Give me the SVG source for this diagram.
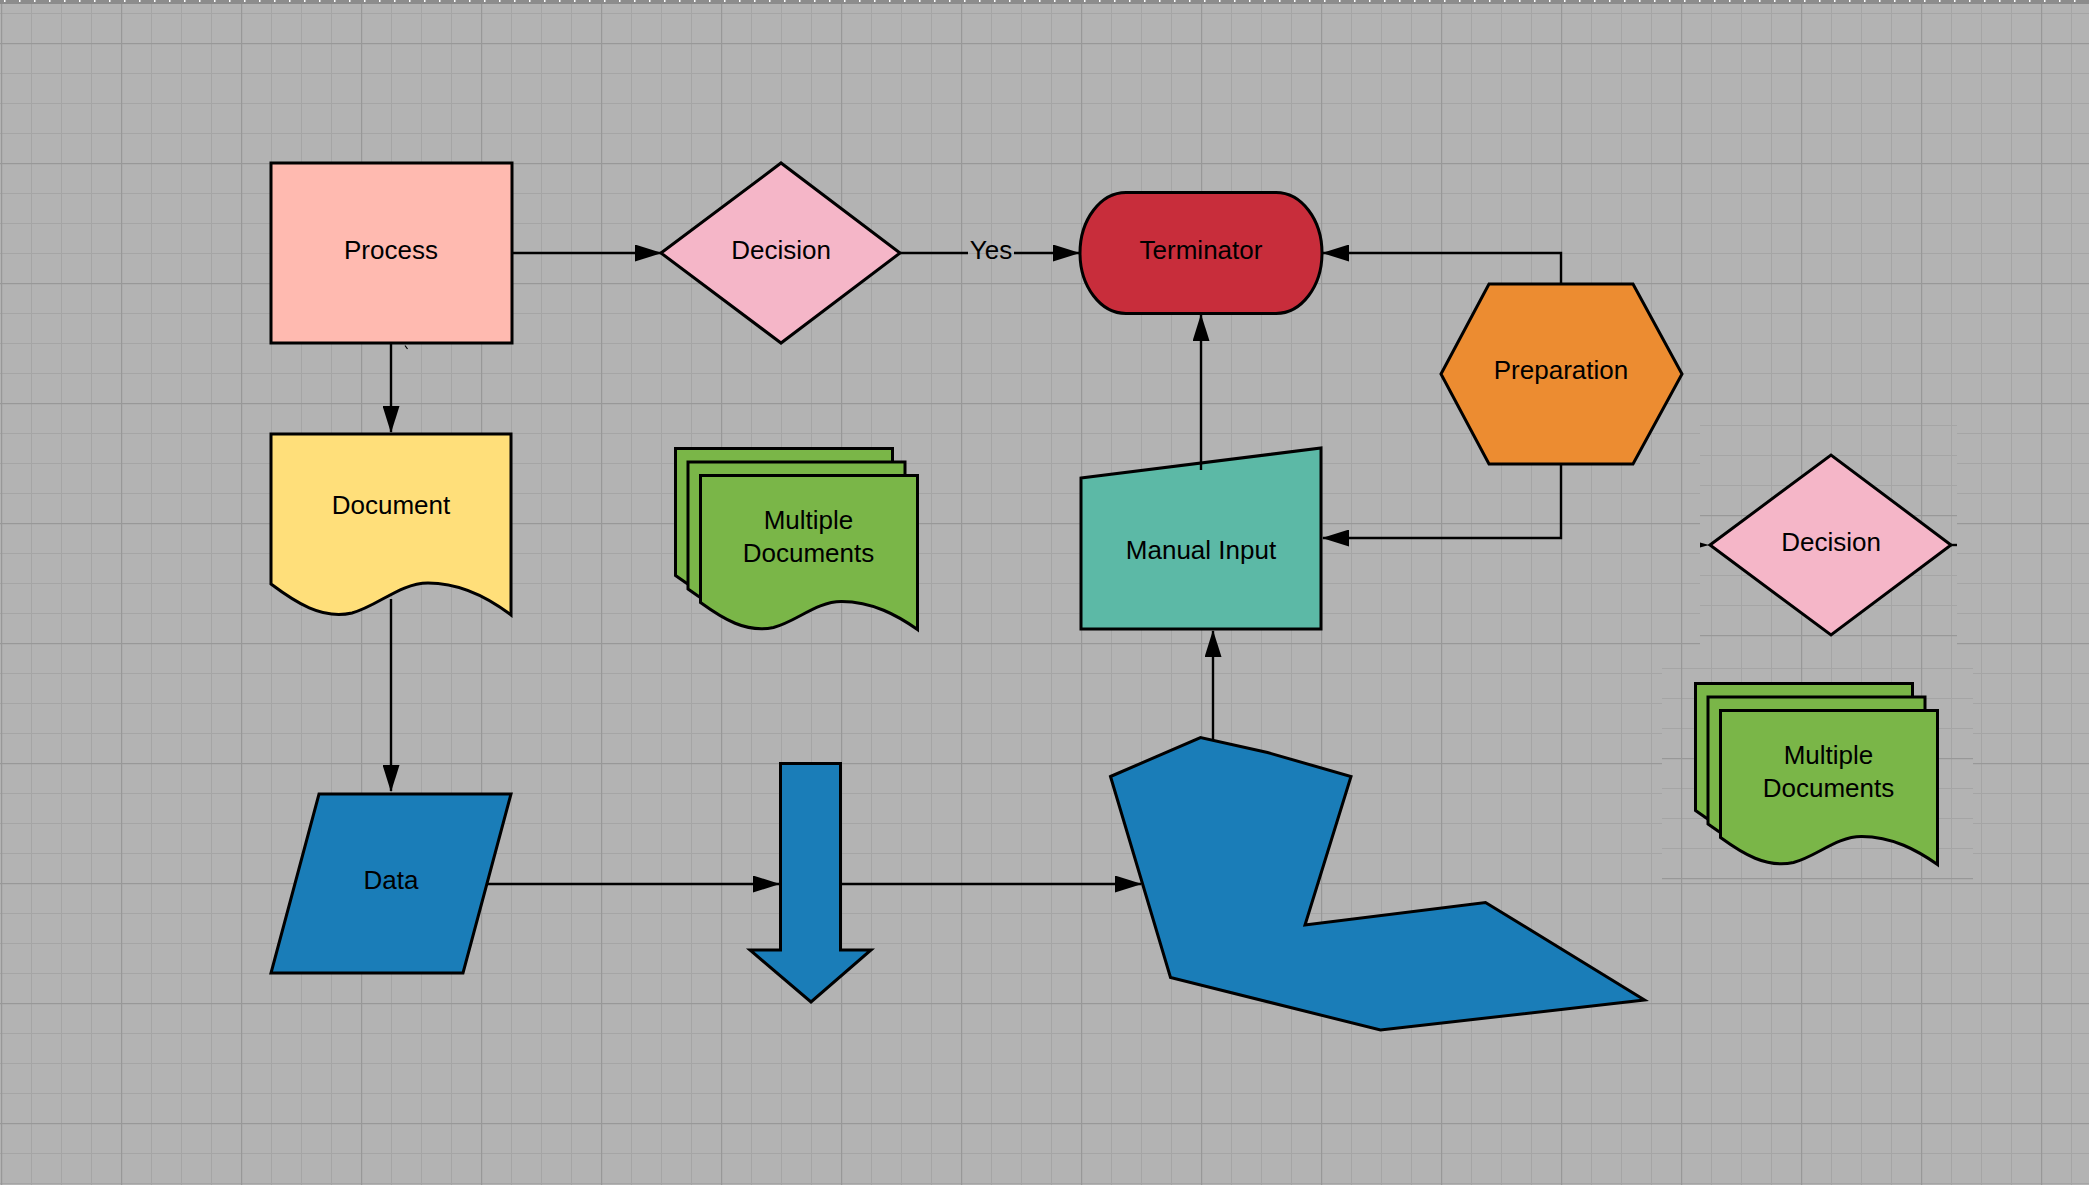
<svg xmlns="http://www.w3.org/2000/svg" xmlns:xlink="http://www.w3.org/1999/xlink" width="2089" height="1185" viewBox="0 0 2089 1185">
<style>
.shape{stroke:#000;stroke-width:3;stroke-linejoin:miter}
.conn{fill:none;stroke:#000;stroke-width:2.4}
.lbl{font-family:"Liberation Sans",Arial,sans-serif;font-size:26px;fill:#000;text-anchor:middle}
</style>
<defs>
<pattern id="grid" patternUnits="userSpaceOnUse" x="1" y="43" width="120" height="120">
<rect width="120" height="120" fill="#b3b3b3"/>
<g fill="#a5a5a5"><rect x="30" y="0" width="1" height="120"/><rect x="60" y="0" width="1" height="120"/><rect x="90" y="0" width="1" height="120"/><rect x="0" y="30" width="120" height="1"/><rect x="0" y="60" width="120" height="1"/><rect x="0" y="90" width="120" height="1"/></g>
<g fill="#989898"><rect x="0" y="0" width="1.2" height="120"/><rect x="0" y="0" width="120" height="1.2"/></g>
</pattern>
<pattern id="grid1" href="#grid" xlink:href="#grid" y="35"/>
<pattern id="grid2" href="#grid" xlink:href="#grid" y="38"/>
<pattern id="ticks" patternUnits="userSpaceOnUse" x="4" y="0" width="15" height="2">
<rect width="1.5" height="2" fill="#fff"/>
</pattern>
<marker id="arr" markerUnits="userSpaceOnUse" viewBox="0 0 27 17" markerWidth="27" markerHeight="17" refX="26" refY="8.5" orient="auto">
<path d="M0,0 L27,8.5 L0,17 Z" fill="#000"/>
</marker>
<g id="mdsheets" class="shape" fill="#7ab648">
<path d="M0,0 H217 V154 C197,140 172,126 141,126 C116,126 96,146 73,152 C46,158 22,143 0,127 Z"/>
<path transform="translate(12.5,13.5)" d="M0,0 H217 V154 C197,140 172,126 141,126 C116,126 96,146 73,152 C46,158 22,143 0,127 Z"/>
<path transform="translate(25,27)" d="M0,0 H217 V154 C197,140 172,126 141,126 C116,126 96,146 73,152 C46,158 22,143 0,127 Z"/>
</g>
</defs>

<g id="background">
<rect x="0" y="0" width="2089" height="1185" fill="url(#grid)"/>
<rect x="1700" y="425" width="257" height="238" fill="url(#grid1)"/>
<rect x="1662" y="668" width="311" height="212" fill="url(#grid2)"/>
<rect x="0" y="0" width="2089" height="4" fill="#8c8c8c"/>
<rect x="0" y="0" width="2089" height="2" fill="url(#ticks)"/>
</g>

<g id="process">
<rect class="shape" x="271" y="163" width="241" height="180" fill="#ffbab0"/>
<text class="lbl" x="391" y="259">Process</text>
</g>

<g id="decision1">
<polygon class="shape" points="661,253 781,163 900,253 781,343" fill="#f5b6c8"/>
<text class="lbl" x="781" y="258.5">Decision</text>
</g>

<g id="terminator">
<rect class="shape" x="1080" y="192.5" width="242" height="121" rx="46" ry="60.5" fill="#c82d3b"/>
<text class="lbl" x="1201" y="259">Terminator</text>
</g>

<g id="preparation">
<polygon class="shape" points="1441,374 1489,284 1633,284 1682,374 1633,464 1489,464" fill="#ec8c31"/>
<text class="lbl" x="1561" y="379">Preparation</text>
</g>

<g id="document">
<path class="shape" d="M271,434 H511 V615 C490,599 462,583 428,583 C400,583 378,606 352,613 C322,620 295,602 271,584 Z" fill="#ffdf7a"/>
<text class="lbl" x="391" y="514">Document</text>
</g>

<g id="multidoc1" transform="translate(675.5,448.5)">
<use href="#mdsheets" xlink:href="#mdsheets"/>
<text class="lbl" x="133" y="80">Multiple</text>
<text class="lbl" x="133" y="113">Documents</text>
</g>

<g id="manualinput">
<polygon class="shape" points="1081,478 1321,448 1321,629 1081,629" fill="#5cb9a6"/>
<text class="lbl" x="1201" y="559">Manual Input</text>
</g>

<g id="decision2">
<polygon class="shape" points="1710,545 1831,455 1951,545 1831,635" fill="#f5b6c8"/>
<text class="lbl" x="1831" y="551">Decision</text>
</g>

<g id="multidoc2" transform="translate(1695.5,683.5)">
<use href="#mdsheets" xlink:href="#mdsheets"/>
<text class="lbl" x="133" y="80">Multiple</text>
<text class="lbl" x="133" y="113">Documents</text>
</g>

<g id="data">
<polygon class="shape" points="319,794 511,794 463,973 271,973" fill="#1a7db8"/>
<text class="lbl" x="391" y="889">Data</text>
</g>

<g id="downarrow">
<polygon class="shape" points="780.5,763.5 840.5,763.5 840.5,950 871,950 811,1002 750,950 780.5,950" fill="#1a7db8"/>
</g>

<g id="polygon">
<polygon class="shape" points="1110.5,776.5 1200.5,737.5 1267.5,752.5 1351,776.5 1305,925 1485.5,902.5 1644.5,1000 1380.5,1030 1170.5,977.5" fill="#1a7db8"/>
</g>

<g id="connectors">
<path class="conn" d="M512,253 H661" marker-end="url(#arr)"/>
<path class="conn" d="M900,253 H968 M1014,253 H1079" marker-end="url(#arr)"/>
<text class="lbl" x="991" y="258.5">Yes</text>
<path class="conn" d="M1561,284 V253 H1323" marker-end="url(#arr)"/>
<path class="conn" d="M1561,464 V538 H1323" marker-end="url(#arr)"/>
<path class="conn" d="M1201,470 V315" marker-end="url(#arr)"/>
<path class="conn" d="M1213,740 V631" marker-end="url(#arr)"/>
<path class="conn" d="M391,343 V432" marker-end="url(#arr)"/>
<path class="conn" d="M391,599 V791" marker-end="url(#arr)"/>
<path class="conn" d="M487,884 H779" marker-end="url(#arr)"/>
<path class="conn" d="M841,884 H1141" marker-end="url(#arr)"/>
<path d="M405,345.5 L407.5,349" stroke="#000" stroke-width="1.2"/>
<path d="M1957,545 H1951" stroke="#000" stroke-width="2.4"/>
<path d="M1700,542.5 L1709,545 L1700,547.5 Z" fill="#000"/>
</g>
</svg>
